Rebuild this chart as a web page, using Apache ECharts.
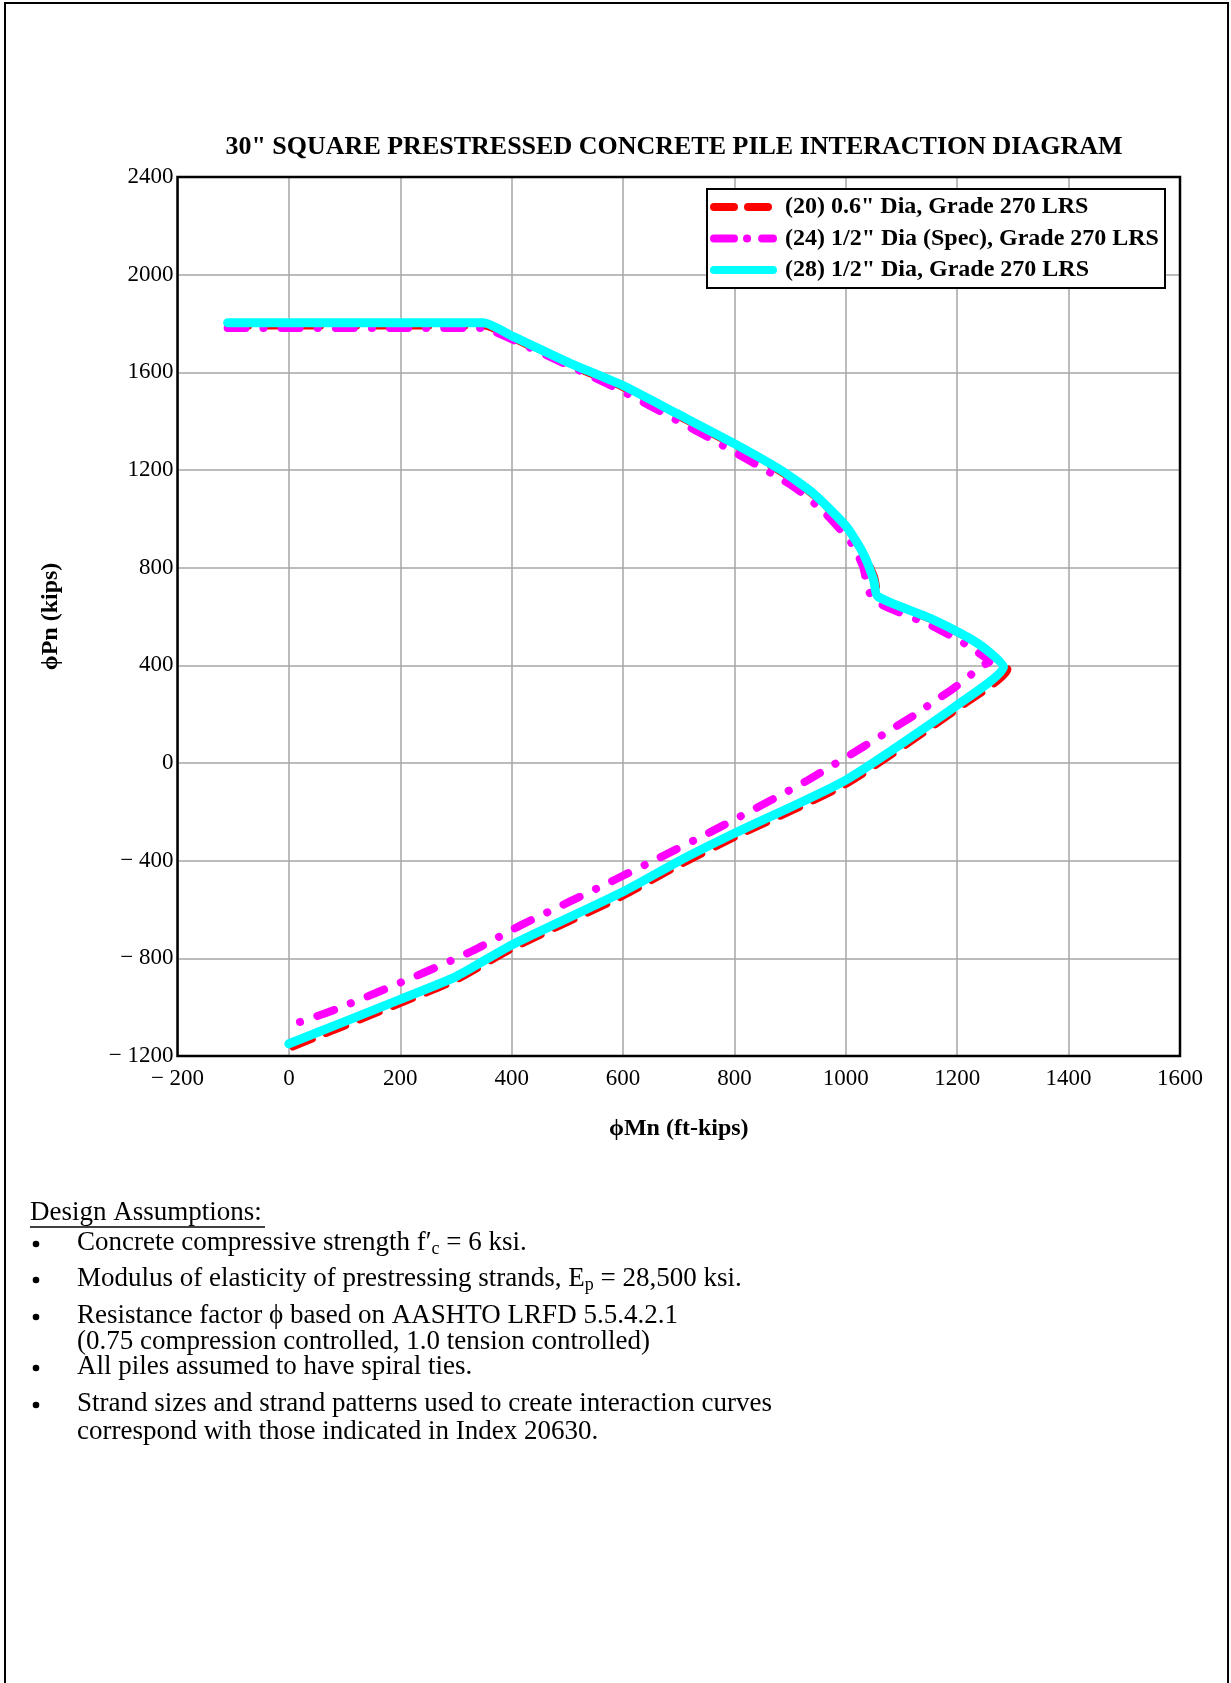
<!DOCTYPE html>
<html><head><meta charset="utf-8">
<script src="https://cdn.jsdelivr.net/npm/echarts@6/dist/echarts.min.js"></script>
<style>html,body{margin:0;padding:0;background:#fff}#c{width:1231px;height:1683px}</style>
</head><body><div id="c"></div>
<script>
// ---- data (phiMn in ft-kips, phiPn in kips) ----
const seriesNames = ['(20) 0.6" Dia, Grade 270 LRS', '(24) 1/2" Dia (Spec), Grade 270 LRS', '(28) 1/2" Dia, Grade 270 LRS'];
const red_M = [-110, 350, 403, 505, 598, 696, 799, 883, 941, 1001, 1033, 1052, 1061, 1152, 1218, 1255, 1291, 1205, 1000, 800, 700, 600, 400, 300, 200, 5];
const red_P = [1790, 1790, 1738, 1628, 1540, 1424, 1300, 1192, 1097, 962, 855, 760, 676, 588, 512, 457, 384, 228, -88, -305, -420, -545, -762, -890, -985, -1165];
const mag_M = [-110, 345, 409, 588, 756, 906, 960, 1010, 1031, 1040, 1055, 1085, 1151, 1208, 1235, 1258, 1247, 1190, 1157, 1133, 932, 761, 675, 588, 502, 415, 331, 244, 158, 74, 5];
const mag_P = [1782, 1782, 1726, 1535, 1330, 1132, 1030, 901, 804, 709, 661, 627, 566, 497, 456, 415, 401, 300, 251, 210, -70, -278, -377, -475, -570, -666, -768, -857, -940, -1018, -1072];
const cyan_M = [-110, 349, 403, 505, 598, 696, 799, 883, 941, 1001, 1031, 1050, 1057, 1151, 1217, 1253, 1283, 1205, 1000, 800, 700, 600, 400, 300, 200, 0];
const cyan_P = [1803, 1803, 1746, 1637, 1548, 1432, 1309, 1200, 1105, 968, 859, 750, 683, 593, 517, 463, 394, 245, -70, -288, -402, -527, -745, -875, -968, -1150];
const xRange = [-200, 1600, 200];
const yRange = [-1200, 2400, 400];
const titleText = '30" SQUARE PRESTRESSED CONCRETE PILE INTERACTION DIAGRAM';
const xName = '\u03D5Mn (ft-kips)';
const yName = '\u03D5Pn (kips)';
const notesHeader = 'Design Assumptions:';
const notesLines = [
  {bullet: true,  text: '{n|Concrete compressive strength f\u2032}{s|c}{n| = 6 ksi.}'},
  {bullet: true,  text: '{n|Modulus of elasticity of prestressing strands, E}{s|p}{n| = 28,500 ksi.}'},
  {bullet: true,  text: '{n|Resistance factor \u03D5 based on AASHTO LRFD 5.5.4.2.1}'},
  {bullet: false, text: '{n|(0.75 compression controlled, 1.0 tension controlled)}'},
  {bullet: true,  text: '{n|All piles assumed to have spiral ties.}'},
  {bullet: true,  text: '{n|Strand sizes and strand patterns used to create interaction curves}'},
  {bullet: false, text: '{n|correspond with those indicated in Index 20630.}'}
];
const notesY = [1243, 1279, 1316, 1342, 1367, 1404, 1432];

const SERIF = '"Liberation Serif", "Times New Roman", serif';
const COLORS = ['#ff0000', '#ff00ff', '#00ffff'];
const WIDTHS = [7, 8, 9];
const DASHES = [[21, 15], [18, 18, 0.1, 18], null];
const pairs = (m, p) => m.map((v, i) => [v, p[i]]);
const fmt = v => v < 0 ? '\u2212 ' + Math.abs(v) : String(v);

const chart = echarts.init(document.getElementById('c'), null, {renderer: 'canvas'});

const graphics = [
  {type: 'rect', shape: {x: 5, y: 3, width: 1223, height: 1700}, style: {fill: 'none', stroke: '#000', lineWidth: 2}, silent: true},
  // plot frame drawn above the grid lines, below the curves
  {type: 'rect', shape: {x: 177.5, y: 177, width: 1002.5, height: 879}, style: {fill: 'none', stroke: '#000', lineWidth: 2.5}, z: 1, silent: true},
  {type: 'rect', shape: {x: 707, y: 189, width: 458, height: 99}, style: {fill: '#fff', stroke: '#000', lineWidth: 2}, z: 5, silent: true},
  {type: 'text', x: 674, y: 147, style: {text: titleText, font: 'bold 26px ' + SERIF, fill: '#000', textAlign: 'center', textVerticalAlign: 'middle'}},
  {type: 'text', x: 30, y: 1213, style: {text: notesHeader, font: '27px ' + SERIF, fill: '#000', textAlign: 'left', textVerticalAlign: 'middle'}},
  {type: 'line', shape: {x1: 30, y1: 1227, x2: 265, y2: 1227}, style: {stroke: '#000', lineWidth: 1.5}}
];
// legend line samples
const sampleY = [207, 238.5, 270];
const sampleDash = [[20, 14], [20, 13, 0.1, 15], null];
COLORS.forEach((c, i) => {
  graphics.push({type: 'line', z: 6, silent: true,
    shape: {x1: 714, y1: sampleY[i], x2: i === 0 ? 768 : 773, y2: sampleY[i]},
    style: {stroke: c, lineWidth: i === 2 ? 8 : 8, lineCap: 'round', lineDash: sampleDash[i] || null}});
});
notesLines.forEach((ln, i) => {
  if (ln.bullet) {
    graphics.push({type: 'circle', shape: {cx: 36, cy: notesY[i] + 1, r: 3.3}, style: {fill: '#000'}});
  }
  graphics.push({type: 'text', x: 77, y: notesY[i], style: {
    text: ln.text, textAlign: 'left', textVerticalAlign: 'middle',
    rich: {
      n: {fontFamily: SERIF, fontSize: 27, lineHeight: 30, fill: '#000', color: '#000'},
      s: {fontFamily: SERIF, fontSize: 18, lineHeight: 14, verticalAlign: 'bottom', fill: '#000', color: '#000'}
    }
  }});
});

const axisLabelStyle = {fontFamily: SERIF, fontSize: 23, color: '#000', formatter: fmt};
const nameStyle = {fontFamily: SERIF, fontSize: 24, fontWeight: 'bold', color: '#000'};

chart.setOption({
  animation: false,
  backgroundColor: '#fff',
  grid: {left: 177.5, top: 177, width: 1002.5, height: 879, show: false, containLabel: false},
  xAxis: {
    type: 'value', min: xRange[0], max: xRange[1], interval: xRange[2],
    axisLine: {show: false}, axisTick: {show: false},
    axisLabel: Object.assign({margin: 11}, axisLabelStyle),
    splitLine: {show: true, lineStyle: {color: '#a6a6a6', width: 1.5}},
    name: xName, nameLocation: 'middle', nameGap: 61, nameTextStyle: nameStyle
  },
  yAxis: {
    type: 'value', min: yRange[0], max: yRange[1], interval: yRange[2],
    axisLine: {show: false}, axisTick: {show: false},
    axisLabel: Object.assign({margin: 4}, axisLabelStyle),
    splitLine: {show: true, lineStyle: {color: '#a6a6a6', width: 1.5}},
    name: yName, nameLocation: 'middle', nameGap: 115, nameRotate: 90, nameTextStyle: nameStyle
  },
  legend: {
    orient: 'vertical', left: 710, top: 195, padding: 0, itemGap: 7.5,
    itemWidth: 67, itemHeight: 14, selectedMode: false, z: 10, icon: 'rect',
    itemStyle: {color: 'rgba(0,0,0,0)', opacity: 0, borderWidth: 0},
    lineStyle: {opacity: 0},
    textStyle: {fontFamily: SERIF, fontWeight: 'bold', fontSize: 24, lineHeight: 24, color: '#000', padding: [0, 0, 0, 3]},
    data: seriesNames
  },
  graphic: graphics,
  series: [
    {type: 'line', name: seriesNames[0], data: pairs(red_M, red_P), symbol: 'none', showSymbol: false, z: 2, smooth: 0.2,
     itemStyle: {color: COLORS[0]}, lineStyle: {color: COLORS[0], width: WIDTHS[0], type: DASHES[0], cap: 'round', join: 'round'}},
    {type: 'line', name: seriesNames[1], data: pairs(mag_M, mag_P), symbol: 'none', showSymbol: false, z: 3, smooth: 0.2,
     itemStyle: {color: COLORS[1]}, lineStyle: {color: COLORS[1], width: WIDTHS[1], type: DASHES[1], cap: 'round', join: 'round'}},
    {type: 'line', name: seriesNames[2], data: pairs(cyan_M, cyan_P), symbol: 'none', showSymbol: false, z: 4, smooth: 0.2,
     itemStyle: {color: COLORS[2]}, lineStyle: {color: COLORS[2], width: WIDTHS[2], cap: 'round', join: 'round'}}
  ]
});
</script></body></html>
